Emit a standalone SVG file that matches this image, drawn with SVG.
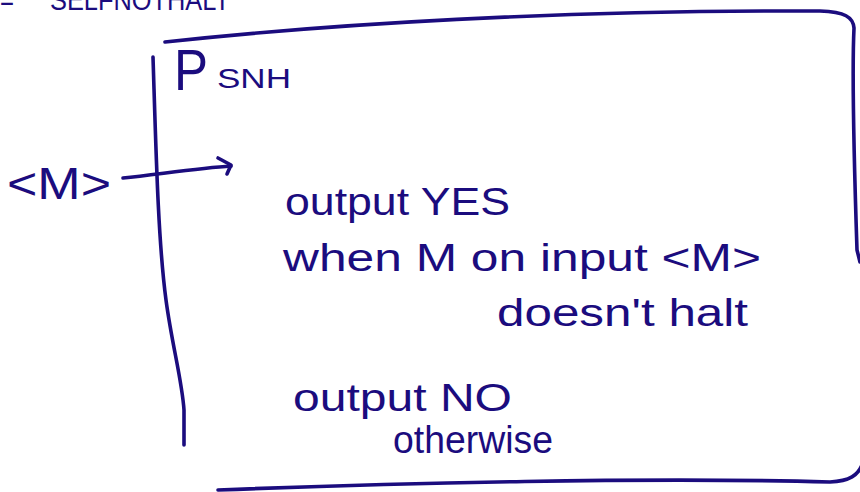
<svg xmlns="http://www.w3.org/2000/svg" width="860" height="492" viewBox="0 0 860 492">
<style>
.ink{fill:none;stroke:#1b0c7e;stroke-width:3.6;stroke-linecap:round;stroke-linejoin:round}
.t{fill:#1b0c7e;font-family:"Liberation Sans","DejaVu Sans",sans-serif}
.body{font-size:38px}
</style>
<rect width="860" height="492" fill="#ffffff"/>
<g id="caption">
<text class="t" x="0" y="10" font-size="30" textLength="14" lengthAdjust="spacingAndGlyphs">=</text>
<text class="t" x="50" y="10" font-size="30" textLength="180" lengthAdjust="spacingAndGlyphs">SELFNOTHALT</text>
</g>
<g id="machine-box">
<path class="ink" d="M165,42 C330,24 560,10 820,11 C845,12 853,17 854,28 C852,70 854,160 857,250 L860,262"/>
<path class="ink" d="M153,57 C156,150 158,240 166,300 C172,345 182,380 184,410 L184,445"/>
<path class="ink" d="M218,490 C400,483 650,477 830,482 C850,481 858,475 862,465"/>
<text class="t" x="174" y="90" font-size="58" textLength="34" lengthAdjust="spacingAndGlyphs">P</text>
<text class="t" x="217" y="88" font-size="28" textLength="74" lengthAdjust="spacingAndGlyphs">SNH</text>
</g>
<g id="input-label">
<text class="t" x="7" y="199" font-size="44" textLength="104" lengthAdjust="spacingAndGlyphs">&lt;M&gt;</text>
</g>
<g id="connectors">
<path class="ink" d="M123,178 C160,174 200,168 231,166"/>
<path class="ink" d="M218,158 L231,165 L227,174"/>
</g>
<g id="logic-text">
<text class="t body" x="285" y="215" textLength="225" lengthAdjust="spacingAndGlyphs">output YES</text>
<text class="t body" x="283" y="271" textLength="478" lengthAdjust="spacingAndGlyphs">when M on input &lt;M&gt;</text>
<text class="t body" x="497" y="326" textLength="251" lengthAdjust="spacingAndGlyphs">doesn't halt</text>
<text class="t body" x="293" y="411" textLength="219" lengthAdjust="spacingAndGlyphs">output NO</text>
<text class="t body" x="393" y="453" textLength="160" lengthAdjust="spacingAndGlyphs">otherwise</text>
</g>
</svg>
